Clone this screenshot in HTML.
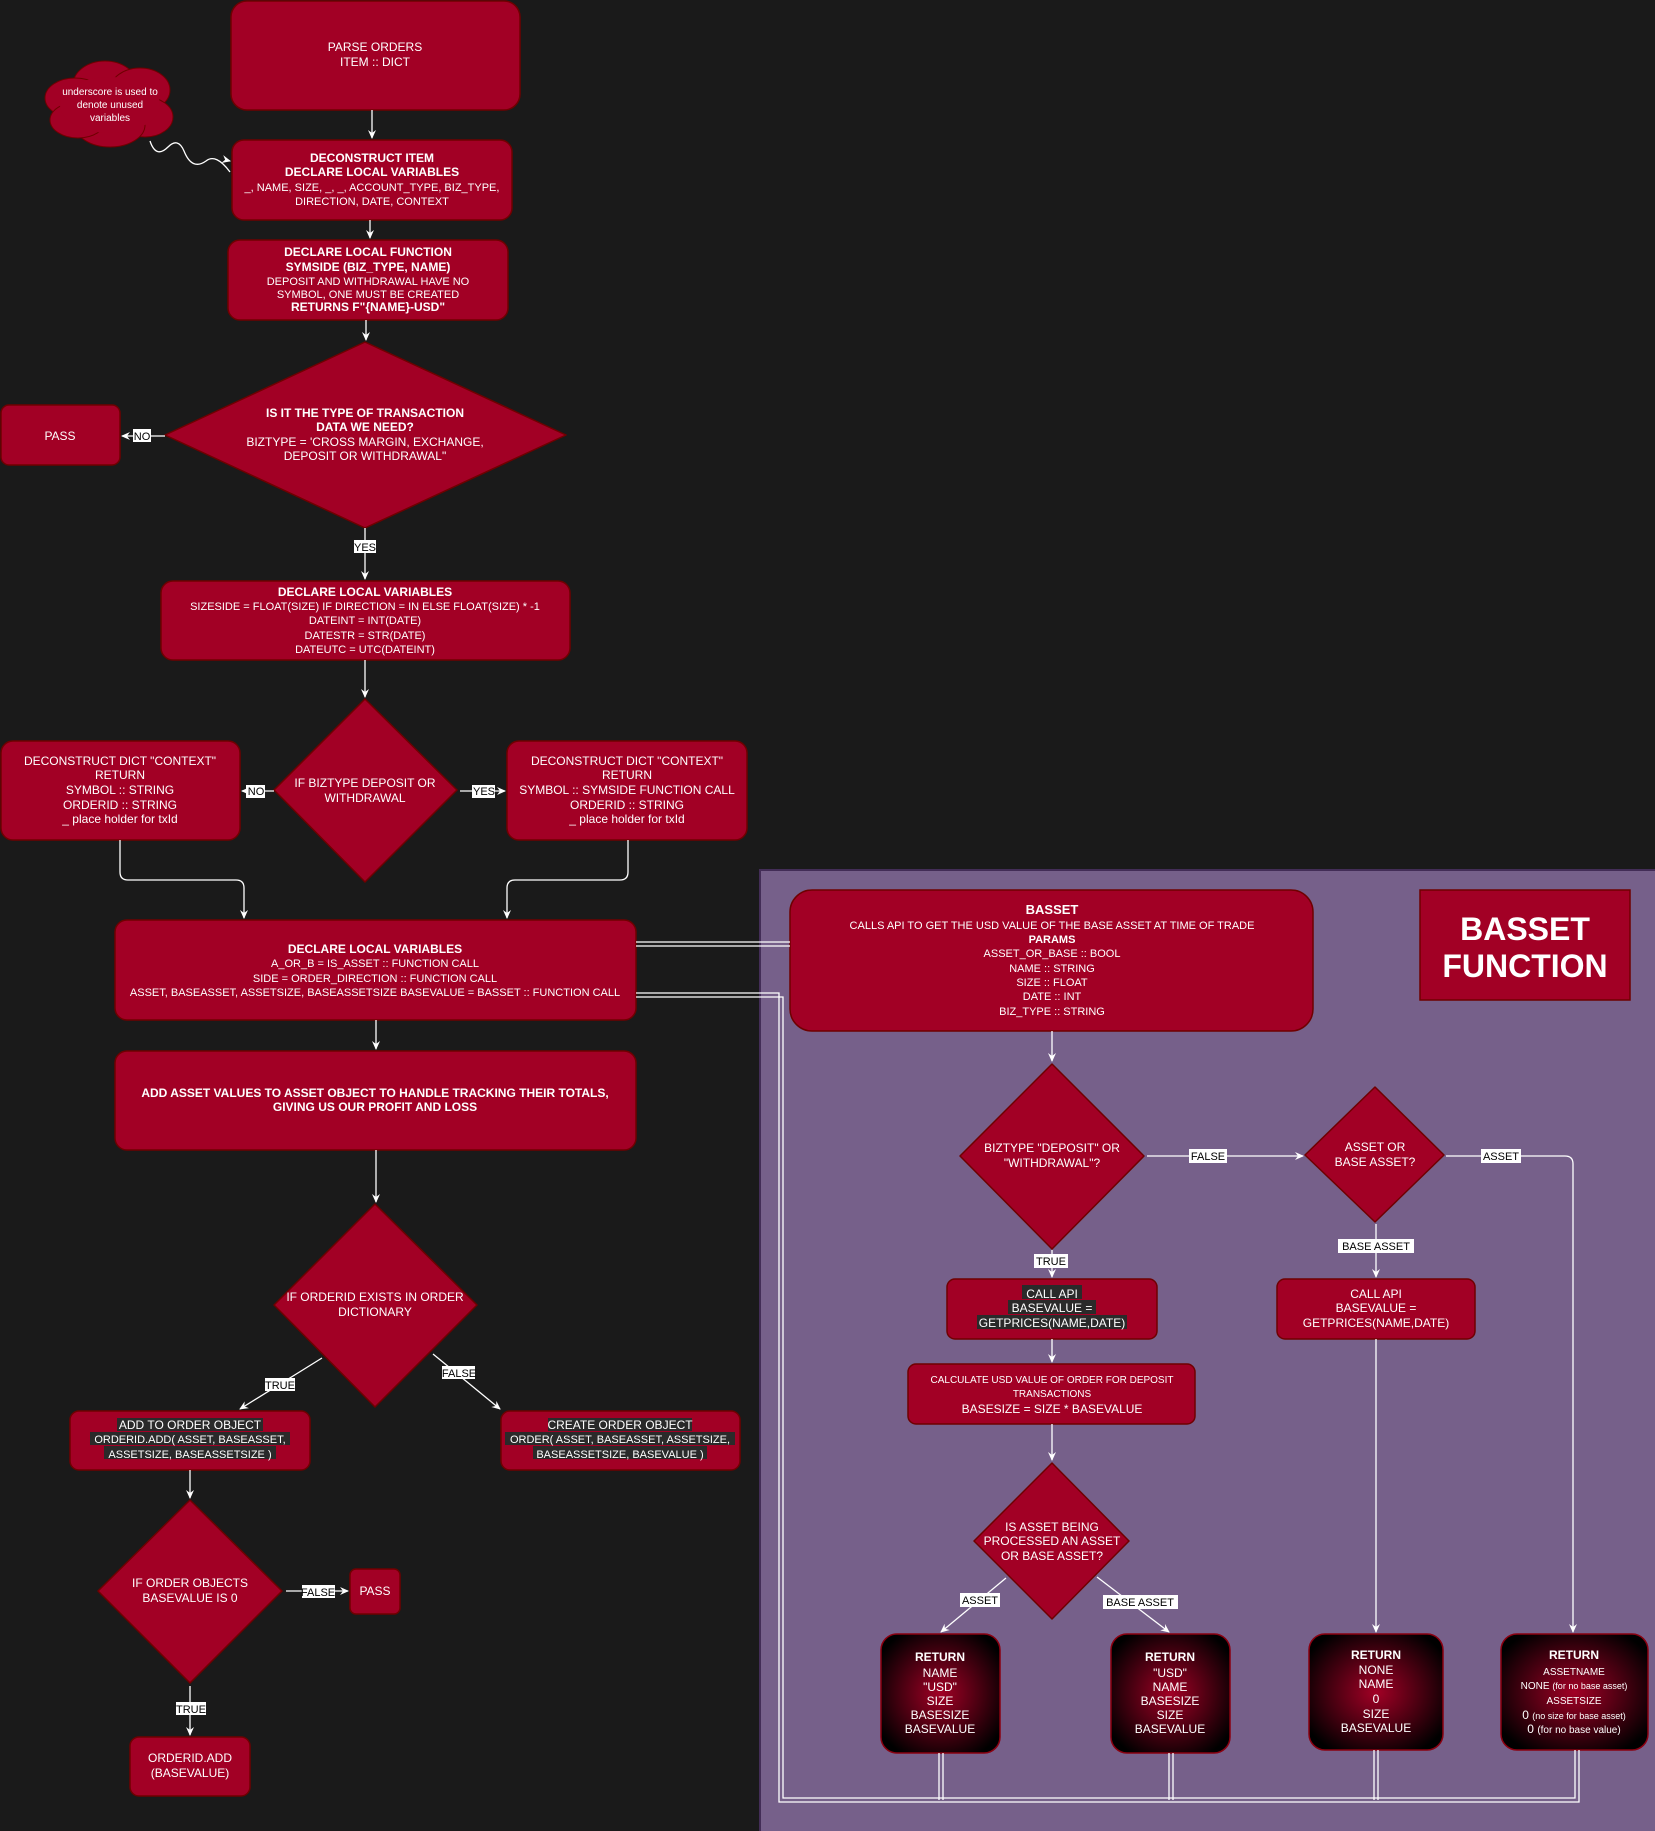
<!DOCTYPE html>
<html><head><meta charset="utf-8"><style>
html,body{margin:0;padding:0;background:#1a1a1a;}
svg{display:block}
text{font-family:"Liberation Sans",sans-serif;fill:#fff;text-anchor:middle;font-size:12px}
.b{font-weight:bold}
.s{font-size:11px}
.lbl{fill:#000;font-size:11px}
</style></head><body>
<svg width="1655" height="1831" viewBox="0 0 1655 1831" xmlns="http://www.w3.org/2000/svg">
<defs>
<marker id="a" markerWidth="10" markerHeight="10" refX="8" refY="5" orient="auto" markerUnits="userSpaceOnUse">
<path d="M0,1 L9,5 L0,9 L3,5 Z" fill="#fff"/></marker>
<radialGradient id="rg" cx="50%" cy="50%" r="60%">
<stop offset="0" stop-color="#a20025"/><stop offset="1" stop-color="#000"/></radialGradient>
</defs>
<rect width="1655" height="1831" fill="#1a1a1a"/>
<rect x="760" y="870" width="896" height="962" fill="#76608a" stroke="#432d57" stroke-width="2"/>

<g fill="#a20025" stroke="#6f0000" stroke-width="1.5">
<rect x="231" y="1" width="289" height="109" rx="16"/>
<rect x="232" y="140" width="280" height="80" rx="12"/>
<rect x="228" y="240" width="280" height="80" rx="12"/>
<polygon points="365,342 566,435 365,528 165,435" stroke-linejoin="round"/>
<rect x="1" y="405" width="119" height="60" rx="8"/>
<rect x="161" y="581" width="409" height="79" rx="12"/>
<polygon points="365,699 457,790 365,882 274,790" stroke-linejoin="round"/>
<rect x="1" y="741" width="239" height="99" rx="12"/>
<rect x="507" y="741" width="240" height="99" rx="12"/>
<rect x="115" y="920" width="521" height="100" rx="12"/>
<rect x="115" y="1051" width="521" height="99" rx="12"/>
<polygon points="375,1204 477,1305 375,1407 274,1305" stroke-linejoin="round"/>
<rect x="70" y="1411" width="240" height="59" rx="9"/>
<rect x="501" y="1411" width="239" height="59" rx="9"/>
<polygon points="190,1500 282,1591 190,1683 98,1591" stroke-linejoin="round"/>
<rect x="350" y="1569" width="50" height="45" rx="6"/>
<rect x="130" y="1737" width="120" height="59" rx="9"/>
<rect x="790" y="890" width="523" height="141" rx="22"/>
<rect x="1420" y="890" width="210" height="110"/>
<polygon points="1052,1064 1144,1156 1052,1249 960,1156" stroke-linejoin="round"/>
<polygon points="1375,1087 1444,1155 1375,1222 1305,1155" stroke-linejoin="round"/>
<rect x="947" y="1279" width="210" height="60" rx="8"/>
<rect x="1277" y="1279" width="198" height="60" rx="8"/>
<rect x="908" y="1364" width="287" height="60" rx="8"/>
<polygon points="1052,1463 1129,1541 1052,1619 974,1541" stroke-linejoin="round"/>
</g>
<g fill="#a20025" stroke="#6f0000" stroke-width="1">
<ellipse cx="105" cy="85" rx="32" ry="24"/><ellipse cx="140" cy="90" rx="30" ry="22"/>
<ellipse cx="75" cy="98" rx="30" ry="20"/><ellipse cx="145" cy="117" rx="28" ry="20"/>
<ellipse cx="110" cy="125" rx="35" ry="22"/><ellipse cx="78" cy="120" rx="28" ry="18"/>
</g>
<g fill="#a20025"><ellipse cx="110" cy="105" rx="50" ry="28"/></g>
<g fill="url(#rg)" stroke="#8a0010" stroke-width="1.5">
<rect x="881" y="1634" width="119" height="119" rx="16"/>
<rect x="1111" y="1634" width="119" height="119" rx="16"/>
<rect x="1309" y="1634" width="134" height="116" rx="16"/>
<rect x="1501" y="1634" width="147" height="116" rx="16"/>
</g>

<g stroke="#fff" stroke-width="1.3" fill="none">
<line x1="372" y1="110" x2="372" y2="138" marker-end="url(#a)"/>
<line x1="370" y1="220" x2="370" y2="238" marker-end="url(#a)"/>
<line x1="366" y1="320" x2="366" y2="340" marker-end="url(#a)"/>
<line x1="165" y1="436" x2="122" y2="436" marker-end="url(#a)"/>
<line x1="365" y1="528" x2="365" y2="579" marker-end="url(#a)"/>
<line x1="365" y1="660" x2="365" y2="697" marker-end="url(#a)"/>
<line x1="274" y1="791" x2="242" y2="791" marker-end="url(#a)"/>
<line x1="460" y1="791" x2="505" y2="791" marker-end="url(#a)"/>
<path d="M120,840 V872 Q120,880 128,880 H236 Q244,880 244,888 V918" marker-end="url(#a)"/>
<path d="M628,840 V872 Q628,880 620,880 H515 Q507,880 507,888 V918" marker-end="url(#a)"/>
<line x1="376" y1="1020" x2="376" y2="1049" marker-end="url(#a)"/>
<line x1="376" y1="1150" x2="376" y2="1202" marker-end="url(#a)"/>
<line x1="322" y1="1358" x2="240" y2="1409" marker-end="url(#a)"/>
<line x1="433" y1="1354" x2="500" y2="1409" marker-end="url(#a)"/>
<line x1="190" y1="1470" x2="190" y2="1498" marker-end="url(#a)"/>
<line x1="286" y1="1591" x2="348" y2="1591" marker-end="url(#a)"/>
<line x1="190" y1="1686" x2="190" y2="1735" marker-end="url(#a)"/>
<path d="M150,141 q6,18 18,6 q10,-10 16,4 q8,20 22,10 q10,-8 24,11" />
<line x1="226" y1="160" x2="230" y2="161" marker-end="url(#a)"/>
<path d="M636,942 H790"/><path d="M636,946 H790"/>
<path d="M636,993 H779 V1802 H1579 V1750"/>
<path d="M636,997 H783 V1798 H1575 V1750"/>
<line x1="939" y1="1753" x2="939" y2="1800"/><line x1="943" y1="1753" x2="943" y2="1800"/>
<line x1="1169" y1="1753" x2="1169" y2="1800"/><line x1="1173" y1="1753" x2="1173" y2="1800"/>
<line x1="1374" y1="1750" x2="1374" y2="1800"/><line x1="1378" y1="1750" x2="1378" y2="1800"/>
<line x1="1052" y1="1031" x2="1052" y2="1061" marker-end="url(#a)"/>
<line x1="1147" y1="1156" x2="1303" y2="1156" marker-end="url(#a)"/>
<path d="M1446,1156 H1565 Q1573,1156 1573,1164 V1632" marker-end="url(#a)"/>
<line x1="1376" y1="1224" x2="1376" y2="1277" marker-end="url(#a)"/>
<line x1="1052" y1="1250" x2="1052" y2="1277" marker-end="url(#a)"/>
<line x1="1376" y1="1339" x2="1376" y2="1632" marker-end="url(#a)"/>
<line x1="1052" y1="1339" x2="1052" y2="1362" marker-end="url(#a)"/>
<line x1="1052" y1="1424" x2="1052" y2="1460" marker-end="url(#a)"/>
<line x1="1006" y1="1578" x2="941" y2="1632" marker-end="url(#a)"/>
<line x1="1097" y1="1577" x2="1169" y2="1632" marker-end="url(#a)"/>
</g>

<g fill="#fff">
<rect x="133" y="429" width="18" height="13"/>
<rect x="354" y="540" width="22" height="13"/>
<rect x="246" y="785" width="19" height="13"/>
<rect x="472" y="785" width="23" height="13"/>
<rect x="265" y="1378" width="30" height="13"/>
<rect x="442" y="1366" width="33" height="13"/>
<rect x="302" y="1585" width="33" height="13"/>
<rect x="176" y="1702" width="30" height="13"/>
<rect x="1189" y="1149" width="38" height="14"/>
<rect x="1481" y="1149" width="40" height="14"/>
<rect x="1338" y="1239" width="76" height="14"/>
<rect x="1034" y="1254" width="34" height="14"/>
<rect x="960" y="1593" width="40" height="14"/>
<rect x="1103" y="1595" width="75" height="14"/>
</g>
<g class="lbl">
<text x="142" y="440" class="lbl">NO</text>
<text x="365" y="551" class="lbl">YES</text>
<text x="256" y="795" class="lbl">NO</text>
<text x="484" y="795" class="lbl">YES</text>
<text x="280" y="1389" class="lbl">TRUE</text>
<text x="459" y="1377" class="lbl">FALSE</text>
<text x="318" y="1596" class="lbl">FALSE</text>
<text x="191" y="1713" class="lbl">TRUE</text>
<text x="1208" y="1160" class="lbl">FALSE</text>
<text x="1501" y="1160" class="lbl">ASSET</text>
<text x="1376" y="1250" class="lbl">BASE ASSET</text>
<text x="1051" y="1265" class="lbl">TRUE</text>
<text x="980" y="1604" class="lbl">ASSET</text>
<text x="1140" y="1606" class="lbl">BASE ASSET</text>
</g>

<text x="375" y="51">PARSE ORDERS</text>
<text x="375" y="66">ITEM :: DICT</text>
<text x="110" y="95" style="font-size:10px">underscore is used to</text>
<text x="110" y="108" style="font-size:10px">denote unused</text>
<text x="110" y="121" style="font-size:10px">variables</text>
<text x="372" y="162" class="b">DECONSTRUCT ITEM</text>
<text x="372" y="176" class="b">DECLARE LOCAL VARIABLES</text>
<text x="372" y="191" class="s">_, NAME, SIZE, _, _, ACCOUNT_TYPE, BIZ_TYPE,</text>
<text x="372" y="205" class="s">DIRECTION, DATE, CONTEXT</text>
<text x="368" y="256" class="b">DECLARE LOCAL FUNCTION</text>
<text x="368" y="271" class="b">SYMSIDE (BIZ_TYPE, NAME)</text>
<text x="368" y="285" class="s">DEPOSIT AND WITHDRAWAL HAVE NO</text>
<text x="368" y="298" class="s">SYMBOL, ONE MUST BE CREATED</text>
<text x="368" y="311" class="b">RETURNS F"{NAME}-USD"</text>
<text x="365" y="417" class="b">IS IT  THE TYPE OF TRANSACTION</text>
<text x="365" y="431" class="b">DATA WE NEED?</text>
<text x="365" y="446">BIZTYPE = 'CROSS MARGIN, EXCHANGE,</text>
<text x="365" y="460">DEPOSIT OR WITHDRAWAL"</text>
<text x="60" y="440">PASS</text>
<text x="365" y="596" class="b">DECLARE LOCAL VARIABLES</text>
<text x="365" y="610" class="s">SIZESIDE = FLOAT(SIZE) IF DIRECTION = IN ELSE FLOAT(SIZE) * -1</text>
<text x="365" y="624" class="s">DATEINT = INT(DATE)</text>
<text x="365" y="639" class="s">DATESTR = STR(DATE)</text>
<text x="365" y="653" class="s">DATEUTC = UTC(DATEINT)</text>
<text x="365" y="787">IF BIZTYPE DEPOSIT OR</text>
<text x="365" y="802">WITHDRAWAL</text>
<text x="120" y="765">DECONSTRUCT DICT "CONTEXT"</text>
<text x="120" y="779">RETURN</text>
<text x="120" y="794">SYMBOL :: STRING</text>
<text x="120" y="809">ORDERID :: STRING</text>
<text x="120" y="823">_ place holder for txId</text>
<text x="627" y="765">DECONSTRUCT DICT "CONTEXT"</text>
<text x="627" y="779">RETURN</text>
<text x="627" y="794">SYMBOL :: SYMSIDE FUNCTION CALL</text>
<text x="627" y="809">ORDERID :: STRING</text>
<text x="627" y="823">_ place holder for txId</text>
<text x="375" y="953" class="b">DECLARE LOCAL VARIABLES</text>
<text x="375" y="967" class="s">A_OR_B = IS_ASSET :: FUNCTION CALL</text>
<text x="375" y="982" class="s">SIDE = ORDER_DIRECTION :: FUNCTION CALL</text>
<text x="375" y="996" class="s">ASSET, BASEASSET, ASSETSIZE, BASEASSETSIZE BASEVALUE = BASSET :: FUNCTION CALL</text>
<text x="375" y="1097" class="b">ADD ASSET VALUES TO ASSET OBJECT TO HANDLE TRACKING THEIR TOTALS,</text>
<text x="375" y="1111" class="b">GIVING US OUR PROFIT AND LOSS</text>
<text x="375" y="1301">IF ORDERID EXISTS IN ORDER</text>
<text x="375" y="1316">DICTIONARY</text>
<g fill="#2a2a2a">
<rect x="117" y="1418" width="146" height="13"/><rect x="90" y="1432" width="200" height="13"/><rect x="104" y="1446" width="172" height="13"/>
<rect x="548" y="1418" width="144" height="13"/><rect x="505" y="1432" width="230" height="13"/><rect x="533" y="1446" width="174" height="13"/>
<rect x="1022" y="1285" width="60" height="14"/><rect x="1008" y="1300" width="88" height="14"/><rect x="977" y="1315" width="150" height="14"/>
</g>
<text x="190" y="1429">ADD TO ORDER OBJECT</text>
<text x="190" y="1443" class="s">ORDERID.ADD( ASSET, BASEASSET,</text>
<text x="190" y="1458" class="s">ASSETSIZE, BASEASSETSIZE )</text>
<text x="620" y="1429">CREATE ORDER OBJECT</text>
<text x="620" y="1443" class="s">ORDER( ASSET, BASEASSET, ASSETSIZE,</text>
<text x="620" y="1458" class="s">BASEASSETSIZE, BASEVALUE )</text>
<text x="190" y="1587">IF ORDER OBJECTS</text>
<text x="190" y="1602">BASEVALUE IS 0</text>
<text x="375" y="1595">PASS</text>
<text x="190" y="1762">ORDERID.ADD</text>
<text x="190" y="1777">(BASEVALUE)</text>
<text x="1052" y="914" class="b" style="font-size:13px">BASSET</text>
<text x="1052" y="929" class="s">CALLS API TO GET THE USD VALUE OF THE BASE ASSET AT TIME OF TRADE</text>
<text x="1052" y="943" class="b s">PARAMS</text>
<text x="1052" y="957" class="s">ASSET_OR_BASE :: BOOL</text>
<text x="1052" y="972" class="s">NAME :: STRING</text>
<text x="1052" y="986" class="s">SIZE :: FLOAT</text>
<text x="1052" y="1000" class="s">DATE :: INT</text>
<text x="1052" y="1015" class="s">BIZ_TYPE :: STRING</text>
<text x="1525" y="940" class="b" style="font-size:32px">BASSET</text>
<text x="1525" y="977" class="b" style="font-size:32px">FUNCTION</text>
<text x="1052" y="1152">BIZTYPE "DEPOSIT" OR</text>
<text x="1052" y="1167">"WITHDRAWAL"?</text>
<text x="1375" y="1151">ASSET OR</text>
<text x="1375" y="1166">BASE ASSET?</text>
<text x="1052" y="1298">CALL API</text>
<text x="1052" y="1312">BASEVALUE =</text>
<text x="1052" y="1327">GETPRICES(NAME,DATE)</text>
<text x="1376" y="1298">CALL API</text>
<text x="1376" y="1312">BASEVALUE =</text>
<text x="1376" y="1327">GETPRICES(NAME,DATE)</text>
<text x="1052" y="1383" style="font-size:10px">CALCULATE USD VALUE OF ORDER FOR DEPOSIT</text>
<text x="1052" y="1397" style="font-size:10px">TRANSACTIONS</text>
<text x="1052" y="1413">BASESIZE = SIZE * BASEVALUE</text>
<text x="1052" y="1531">IS ASSET BEING</text>
<text x="1052" y="1545">PROCESSED AN ASSET</text>
<text x="1052" y="1560">OR BASE ASSET?</text>
<g>
<text x="940" y="1661" class="b">RETURN</text><text x="940" y="1677">NAME</text><text x="940" y="1691">"USD"</text><text x="940" y="1705">SIZE</text><text x="940" y="1719">BASESIZE</text><text x="940" y="1733">BASEVALUE</text>
<text x="1170" y="1661" class="b">RETURN</text><text x="1170" y="1677">"USD"</text><text x="1170" y="1691">NAME</text><text x="1170" y="1705">BASESIZE</text><text x="1170" y="1719">SIZE</text><text x="1170" y="1733">BASEVALUE</text>
<text x="1376" y="1659" class="b">RETURN</text><text x="1376" y="1674">NONE</text><text x="1376" y="1688">NAME</text><text x="1376" y="1703">0</text><text x="1376" y="1718">SIZE</text><text x="1376" y="1732">BASEVALUE</text>
<text x="1574" y="1659" class="b">RETURN</text>
<text x="1574" y="1675" style="font-size:10px">ASSETNAME</text>
<text x="1574" y="1689" style="font-size:10px">NONE <tspan style="font-size:9px">(for no base asset)</tspan></text>
<text x="1574" y="1704" style="font-size:10px">ASSETSIZE</text>
<text x="1574" y="1719">0 <tspan style="font-size:9px">(no size for base asset)</tspan></text>
<text x="1574" y="1733">0 <tspan style="font-size:10px">(for no base value)</tspan></text>
</g>
</svg>
</body></html>
